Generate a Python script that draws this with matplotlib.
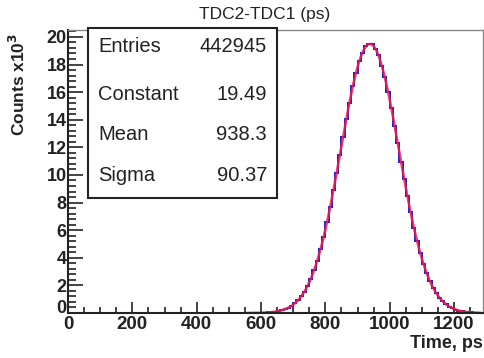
import numpy as np
import matplotlib
matplotlib.use("Agg")
import matplotlib.pyplot as plt
from matplotlib.ticker import MultipleLocator, FuncFormatter

# Histogram of TDC2-TDC1 time differences, 10 ps bins (counts in thousands)
bin_lo = 560
bin_width = 10
counts_k = [
    0.004, 0.006, 0.009, 0.014, 0.022, 0.032, 0.048, 0.071, 0.100, 0.144,
    0.200, 0.281, 0.386, 0.519, 0.697, 0.918, 1.21, 1.54, 1.99, 2.48,
    3.11, 3.79, 4.64, 5.53, 6.58, 7.66, 8.90, 10.12, 11.46, 12.72,
    14.06, 15.22, 16.41, 17.35, 18.24, 18.82, 19.31, 19.45, 19.47, 19.13,
    18.69, 17.92, 17.08, 15.98, 14.87, 13.56, 12.33, 10.96, 9.73, 8.44,
    7.31, 6.19, 5.23, 4.32, 3.57, 2.87, 2.31, 1.82, 1.43, 1.10,
    0.84, 0.63, 0.47, 0.345, 0.25, 0.18, 0.127, 0.089, 0.061, 0.042,
    0.028, 0.019,
]

# Gaussian fit results shown in the stats box
entries = 442945
fit_constant = 19.49
fit_mean = 938.3
fit_sigma = 90.37

stat_names = ["Entries", "Constant", "Mean", "Sigma"]
stat_values = [f"{entries}", f"{fit_constant:.2f}", f"{fit_mean:.1f}", f"{fit_sigma:.2f}"]

edges = bin_lo + bin_width * np.arange(len(counts_k) + 1)

plt.rcParams["font.family"] = ["Liberation Sans", "DejaVu Sans"]

fig = plt.figure(figsize=(4.85, 3.58), dpi=100)
ax = fig.add_axes([68 / 485, 1 - 313 / 358, (483 - 68) / 485, (313 - 30) / 358])

ax.stairs(counts_k, edges, color="#1a1ad0", lw=1.4, baseline=None)

xf = np.linspace(edges[0], edges[-1], 600)
yf = fit_constant * np.exp(-0.5 * ((xf - fit_mean) / fit_sigma) ** 2)
ax.plot(xf, yf, color="#f0184a", lw=1.8, alpha=0.85)

ax.set_xlim(0, 1290)
ax.set_ylim(0, 20.5)

ax.xaxis.set_major_locator(MultipleLocator(200))
ax.xaxis.set_minor_locator(MultipleLocator(50))
ax.yaxis.set_major_locator(MultipleLocator(2))
ax.yaxis.set_minor_locator(MultipleLocator(0.4))
# the y-axis zero is drawn separately, nudged up off the x-axis zero
ax.yaxis.set_major_formatter(FuncFormatter(lambda v, _: "" if abs(v) < 1e-9 else f"{v:g}"))

ax.tick_params(axis="both", which="both", direction="in", top=False, right=False,
               width=1.2, color="#222222")
ax.tick_params(axis="y", which="major", length=11, labelsize=13, pad=1)
ax.tick_params(axis="y", which="minor", length=6)
ax.tick_params(axis="x", which="major", length=8, labelsize=13.5, pad=2.5)
ax.tick_params(axis="x", which="minor", length=4.5)
for lab in ax.get_xticklabels() + ax.get_yticklabels():
    lab.set_fontweight("bold")
    lab.set_color("#222222")

ax.annotate("0", xy=(0, 0), xycoords=("axes fraction", "data"),
            xytext=(-1.5, 3), textcoords="offset points", ha="right", va="center",
            fontsize=13, fontweight="bold", color="#222222", annotation_clip=False)

ax.spines["left"].set_linewidth(1.5)
ax.spines["bottom"].set_linewidth(1.5)
ax.spines["left"].set_color("#222222")
ax.spines["bottom"].set_color("#222222")
ax.spines["top"].set_color("#888888")
ax.spines["right"].set_color("#888888")
ax.spines["top"].set_linewidth(1.0)
ax.spines["right"].set_linewidth(1.0)

fig.text(265 / 485, 1 - 15 / 358, "TDC2-TDC1 (ps)", ha="center", va="center",
         fontsize=12.5, color="#222222")
fig.text(18 / 485, 1 - 84 / 358, r"Counts x10$^{\mathbf{3}}$", rotation=90,
         ha="center", va="center", fontsize=12.5, fontweight="bold", color="#222222")
fig.text(483 / 485, 1 - 344 / 358, "Time, ps", ha="right", va="center",
         fontsize=13, fontweight="bold", color="#222222")

# Stats box
bx0, by0, bx1, by1 = 88, 28, 277, 198
box = plt.Rectangle((bx0 / 485, 1 - by1 / 358), (bx1 - bx0) / 485, (by1 - by0) / 358,
                    transform=fig.transFigure, facecolor="white",
                    edgecolor="#222222", lw=1.5, zorder=5)
fig.add_artist(box)
row_y = [47, 94, 135, 176]
for name, val, yy in zip(stat_names, stat_values, row_y):
    fig.text(98 / 485, 1 - yy / 358, name, ha="left", va="center",
             fontsize=14.5, color="#222222", zorder=6)
    fig.text(267 / 485, 1 - yy / 358, val, ha="right", va="center",
             fontsize=14.5, color="#222222", zorder=6)

fig.savefig("out.png", dpi=100)
